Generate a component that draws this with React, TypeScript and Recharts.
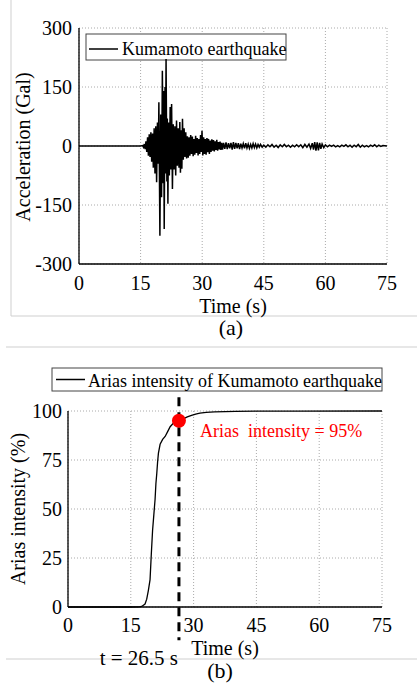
import {
  LineChart,
  Line,
  XAxis,
  YAxis,
  CartesianGrid,
  ReferenceLine,
  ReferenceDot,
  Customized,
} from "recharts";

const serif = "Liberation Serif, DejaVu Serif, serif";

// time ticks shared by both panels
const timeTicks = [0, 15, 30, 45, 60, 75];
const accTicks = [-300, -150, 0, 150, 300];
const ariasTicks = [0, 25, 50, 75, 100];

// [time (s), acceleration (Gal)]
const accSeries: [number, number][] = [
  [0, 0], [15, 0], [15.5, 1], [15.7, -3], [15.9, 5], [16.1, -8], [16.3, 12], [16.5, -15],
  [16.7, 22], [16.9, -25], [17.1, 30], [17.3, -28], [17.5, 35], [17.7, -40], [17.9, 32],
  [18.1, -55], [18.3, 45], [18.5, -70], [18.7, 50], [18.9, -92], [19.1, 60], [19.3, -45],
  [19.45, 111], [19.7, -228], [19.9, 80], [20.1, -130], [20.3, 191], [20.5, -95], [20.6, 140],
  [20.75, -211], [20.95, 150], [21.05, -70], [21.2, 221], [21.4, -90], [21.5, 70], [21.65, -147],
  [21.8, 60], [22.0, -75], [22.2, 99], [22.35, -60], [22.55, 107], [22.75, -109], [22.95, 55],
  [23.15, -60], [23.35, 50], [23.55, -75], [23.75, 65], [23.95, -50], [24.15, 45], [24.35, -55],
  [24.55, 61], [24.7, -68], [24.9, 40], [25.05, -58], [25.2, 69], [25.4, -35], [25.6, 45],
  [25.8, -28], [26.0, 35], [26.2, -32], [26.4, 25], [26.6, -30], [26.8, 22], [27.0, -25],
  [27.2, 28], [27.4, -20], [27.6, 24], [27.8, -26], [28.0, 18], [28.2, -22], [28.4, 26],
  [28.6, -18], [28.8, 20], [29.0, -24], [29.2, 18], [29.4, -20], [29.6, 28], [29.8, -15],
  [29.95, 39], [30.15, -24], [30.35, 22], [30.55, -20], [30.75, 18], [30.95, -22], [31.15, 20],
  [31.35, -16], [31.55, 18], [31.75, -20], [31.95, 14], [32.15, -15], [32.35, 17], [32.55, -12],
  [32.75, 15], [32.95, -14], [33.15, 12], [33.35, -10], [33.55, 16], [33.75, -12], [33.95, 10],
  [34.15, -9], [34.35, 11], [34.55, -10], [34.75, 8], [34.95, -9], [35.2, 8], [35.5, -7],
  [35.8, 9], [36.1, -8], [36.4, 7], [36.7, -6], [37.0, 8], [37.3, -9], [37.6, 10], [37.9, -7],
  [38.2, 8], [38.5, -6], [38.8, 7], [39.1, -8], [39.4, 6], [39.7, -5], [40.0, 6], [40.3, -6],
  [40.6, 7], [40.9, -5], [41.2, 5], [41.5, -6], [41.8, 4], [42.1, -5], [42.4, 6], [42.7, -4],
  [43.0, 5], [43.3, -5], [43.6, 4], [43.9, -3], [44.2, 4], [44.6, -3], [45.0, 2], [45.5, -3],
  [46.0, 3], [46.5, -2], [47.0, 4], [47.5, -3], [48.0, 2], [48.5, -4], [49.0, 3], [49.5, -2],
  [50.0, 4], [50.5, -2], [51.0, 2], [51.5, -3], [52.0, 2], [52.5, -2], [53.0, 3], [53.5, -2],
  [54.0, 3], [54.5, -4], [55.0, 4], [55.5, -3], [56.0, 5], [56.4, -6], [56.8, 7], [57.1, -9],
  [57.4, 10], [57.7, -12], [58.0, 9], [58.3, -11], [58.6, 8], [58.9, -7], [59.2, 5], [59.6, -4],
  [60.0, 3], [60.5, -2], [61.0, 2], [61.5, -1], [62.0, 2], [62.5, -2], [63.0, 1], [63.5, -2],
  [64.0, 2], [64.5, -1], [65.0, 3], [65.5, -2], [66.0, 2], [66.5, -3], [67.0, 2], [67.5, -2],
  [68.0, 4], [68.5, -3], [69.0, 2], [69.5, -2], [70.0, 1], [70.5, -2], [71.0, 2], [71.5, -1],
  [72.0, 3], [72.5, -2], [73.0, 2], [73.5, -1], [74.0, 1], [75.0, 0],
];

// [time (s), Arias intensity (%)]
const ariasSeries: [number, number][] = [
  [0, 0], [15, 0], [17, 0.05], [17.6, 0.3], [18.4, 1.5], [18.8, 4], [19.2, 8.5], [19.6, 14],
  [19.9, 27], [20.2, 39], [20.5, 47], [20.8, 55], [21.0, 63], [21.2, 68], [21.4, 74],
  [21.6, 78.5], [22.0, 83], [22.6, 85.5], [23.2, 87], [23.8, 89.5], [24.4, 92], [25.2, 93.8],
  [26.0, 94.6], [26.5, 95], [27.5, 96], [28.5, 97], [29.5, 97.8], [30.5, 98.4], [31.5, 98.9],
  [33, 99.3], [35, 99.6], [40, 99.8], [45, 99.9], [55, 99.95], [75, 100],
];

const markerTime = 26.5;
const markerValue = 95;

const accData = accSeries.map(([t, a]) => ({ t, a }));
const ariasData = ariasSeries.map(([t, v]) => ({ t, v }));

const tickStyle = { fill: "#000", fontSize: 20, fontFamily: serif };
const axisLineStyle = { stroke: "#000", strokeWidth: 1.3 };

function AccelerationPanel() {
  return (
    <LineChart
      width={417}
      height={340}
      data={accData}
      margin={{ top: 28, right: 30, left: 0, bottom: 46 }}
      style={{ fontFamily: serif }}
    >
      <CartesianGrid stroke="#aaa" strokeDasharray="1 2" />
      <XAxis
        type="number"
        dataKey="t"
        domain={[0, 75]}
        ticks={timeTicks}
        height={30}
        tickLine={false}
        tickSize={0}
        tickMargin={12}
        tick={tickStyle}
        axisLine={axisLineStyle}
        label={{
          value: "Time (s)",
          position: "bottom",
          offset: 4.5,
          fill: "#000",
          fontSize: 20,
          fontFamily: serif,
        }}
      />
      <YAxis
        type="number"
        domain={[-300, 300]}
        ticks={accTicks}
        width={79}
        tickLine={false}
        tickSize={0}
        tickMargin={7}
        tick={tickStyle}
        axisLine={axisLineStyle}
        label={{
          content: () => (
            <text
              x={30}
              y={147}
              transform="rotate(-90 30 147)"
              textAnchor="middle"
              fill="#000"
              fontSize={20}
              style={{ fontFamily: serif }}
            >
              Acceleration (Gal)
            </text>
          ),
        }}
      />
      <Line
        type="linear"
        dataKey="a"
        stroke="#000"
        strokeWidth={1.5}
        dot={false}
        isAnimationActive={false}
      />
      <Customized
        component={
          <g>
            <rect x={86} y={34} width={200} height={26} fill="#fff" stroke="#444" strokeWidth={1} />
            <line x1={89} x2={118} y1={49} y2={49} stroke="#000" strokeWidth={1.5} />
            <text x={122} y={54.5} fontSize={18} style={{ fontFamily: serif }} fill="#000">
              Kumamoto earthquake
            </text>
          </g>
        }
      />
    </LineChart>
  );
}

function AriasPanel() {
  return (
    <LineChart
      width={417}
      height={348}
      data={ariasData}
      margin={{ top: 71, right: 35, left: 0, bottom: 51 }}
      style={{ fontFamily: serif }}
    >
      <CartesianGrid stroke="#aaa" strokeDasharray="1 2" />
      <XAxis
        type="number"
        dataKey="t"
        domain={[0, 75]}
        ticks={timeTicks}
        height={30}
        tickLine={false}
        tickSize={0}
        tickMargin={11}
        tick={tickStyle}
        axisLine={axisLineStyle}
        label={{
          value: "Time (s)",
          position: "bottom",
          offset: 3.5,
          fill: "#000",
          fontSize: 20,
          fontFamily: serif,
        }}
      />
      <YAxis
        type="number"
        domain={[0, 100]}
        ticks={ariasTicks}
        width={68}
        tickLine={false}
        tickSize={0}
        tickMargin={6}
        tick={tickStyle}
        axisLine={axisLineStyle}
        label={{
          content: () => (
            <text
              x={25}
              y={169}
              transform="rotate(-90 25 169)"
              textAnchor="middle"
              fill="#000"
              fontSize={20}
              style={{ fontFamily: serif }}
            >
              Arias intensity (%)
            </text>
          ),
        }}
      />
      <Line
        type="linear"
        dataKey="v"
        stroke="#000"
        strokeWidth={1.3}
        dot={false}
        isAnimationActive={false}
      />
      <ReferenceLine
        segment={[
          { x: markerTime, y: 107 },
          { x: markerTime, y: -17 },
        ]}
        stroke="#000"
        strokeWidth={3}
        strokeDasharray="9 6"
        ifOverflow="visible"
      />
      <ReferenceDot
        x={markerTime}
        y={markerValue}
        r={7}
        fill="#ff0000"
        stroke="none"
        ifOverflow="visible"
      />
      <Customized
        component={
          <g style={{ fontFamily: serif }}>
            <rect x={52} y={28} width={330} height={23} fill="#fff" stroke="#444" strokeWidth={1} />
            <line x1={56} x2={85} y1={39.5} y2={39.5} stroke="#000" strokeWidth={1.5} />
            <text x={88} y={46.5} fontSize={18} fill="#000">
              Arias intensity of Kumamoto earthquake
            </text>
            <text x={200} y={97} fontSize={18} fill="#ff0000" style={{ whiteSpace: "pre" }}>
              {"Arias  intensity = 95%"}
            </text>
            <text x={178} y={325} textAnchor="end" fontSize={21} fill="#000">
              t = 26.5 s
            </text>
          </g>
        }
      />
    </LineChart>
  );
}

export default function App() {
  return (
    <div
      style={{
        position: "absolute",
        left: 0,
        top: 0,
        width: 417,
        height: 688,
        background: "#fff",
        fontFamily: serif,
      }}
    >
      <svg
        width={417}
        height={688}
        style={{ position: "absolute", left: 0, top: 0, fontFamily: serif }}
      >
        <line x1={11} x2={11} y1={0} y2={316} stroke="#cfcfcf" strokeWidth={1} />
        <line x1={11} x2={417} y1={316} y2={316} stroke="#cfcfcf" strokeWidth={1} />
        <line x1={6} x2={417} y1={347} y2={347} stroke="#cfcfcf" strokeWidth={1} />
        <line x1={6} x2={417} y1={659} y2={659} stroke="#cfcfcf" strokeWidth={1} />
        <text x={231} y={335} textAnchor="middle" fontSize={22} fill="#000">
          (a)
        </text>
        <text x={220} y={678} textAnchor="middle" fontSize={22} fill="#000">
          (b)
        </text>
      </svg>
      <div style={{ position: "absolute", left: 0, top: 0 }}>
        <AccelerationPanel />
      </div>
      <div style={{ position: "absolute", left: 0, top: 340 }}>
        <AriasPanel />
      </div>
    </div>
  );
}
